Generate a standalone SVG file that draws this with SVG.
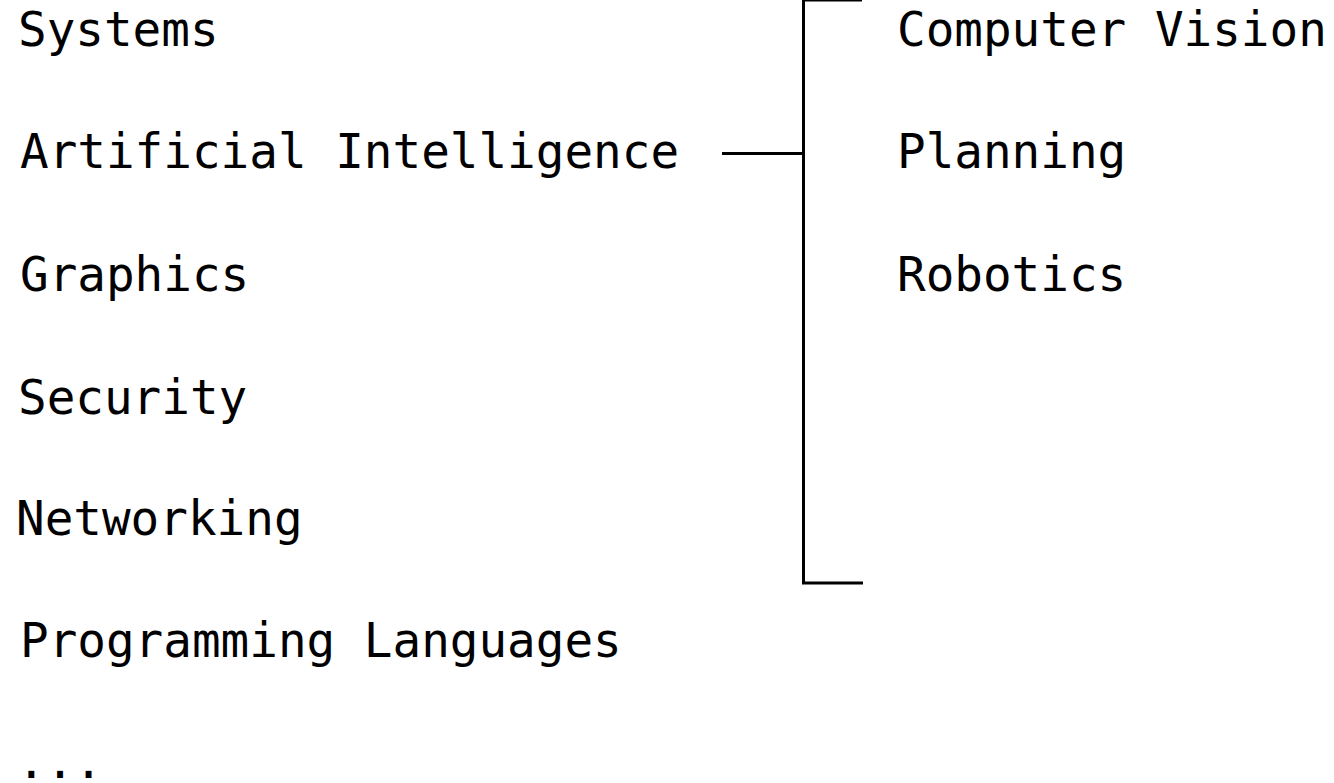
<svg xmlns="http://www.w3.org/2000/svg" width="1334" height="783" viewBox="0 0 1334 783">
<style>
text{font-family:"DejaVu Sans Mono",monospace;font-size:47.6px;fill:#000}
.ln{stroke:#000;stroke-width:3;fill:none}
</style>
<rect width="1334" height="783" fill="#fff"/>
<g id="systems"><text x="18" y="46">Systems</text></g>
<g id="ai"><text x="20" y="168">Artificial Intelligence</text></g>
<g id="graphics"><text x="20" y="291">Graphics</text></g>
<g id="security"><text x="18" y="414">Security</text></g>
<g id="networking"><text x="16" y="535">Networking</text></g>
<g id="pl"><text x="20" y="657">Programming Languages</text></g>
<g id="more"><text x="17" y="778">...</text></g>
<g id="cv"><text x="897" y="46">Computer Vision</text></g>
<g id="planning"><text x="897" y="168">Planning</text></g>
<g id="robotics"><text x="897" y="291">Robotics</text></g>
<g id="connectors">
<path class="ln" d="M722,153.5 H803"/>
<path class="ln" d="M862,0 H803.5 V583 H863"/>
</g>
</svg>
